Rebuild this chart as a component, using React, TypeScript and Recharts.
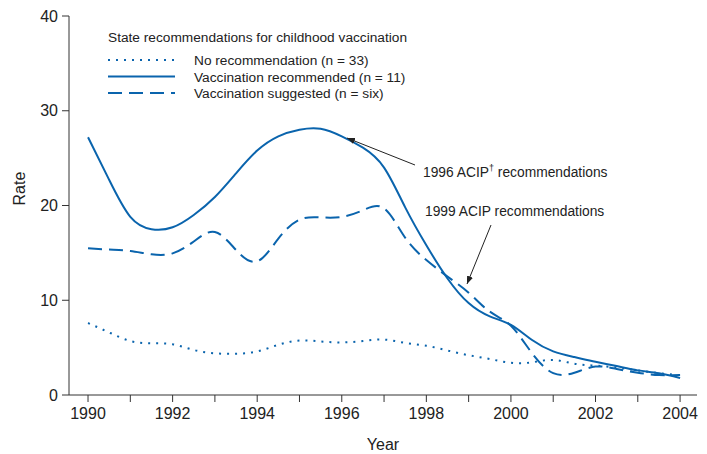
import React from 'react';
import { LineChart, Line, XAxis, YAxis } from 'recharts';

const years = [
  1990, 1990.5, 1991, 1991.5, 1992, 1992.5, 1993, 1993.5, 1994, 1994.5, 1995, 1995.5,
  1996, 1996.5, 1997, 1997.5, 1998, 1998.5, 1999, 1999.5, 2000, 2000.5, 2001, 2001.5,
  2002, 2002.5, 2003, 2003.5, 2004,
];
const noRecommendation = [
  7.6, 6.6, 5.7, 5.45, 5.35, 4.75, 4.4, 4.35, 4.6, 5.3, 5.75, 5.65,
  5.55, 5.7, 5.85, 5.5, 5.2, 4.7, 4.2, 3.8, 3.4, 3.45, 3.7, 3.3,
  3.1, 2.9, 2.6, 2.3, 2.1,
];
const recommended = [
  27.2, 22.7, 18.8, 17.5, 17.7, 19.0, 20.9, 23.4, 25.8, 27.3, 28.0, 28.1,
  27.3, 26.1, 24.0, 19.8, 15.8, 12.3, 9.7, 8.3, 7.4, 5.8, 4.6, 4.0,
  3.5, 3.05, 2.6, 2.3, 1.8,
];
const suggested = [
  15.5, 15.35, 15.2, 14.85, 14.95, 16.2, 17.2, 15.3, 14.1, 16.5, 18.5, 18.75,
  18.8, 19.5, 19.7, 16.6, 14.25, 12.5, 10.8, 8.8, 7.3, 4.4, 2.3, 2.35,
  3.0, 2.75, 2.35, 2.1, 2.1,
];
const xTicks = [1990, 1991, 1992, 1993, 1994, 1995, 1996, 1997, 1998, 1999, 2000, 2001, 2002, 2003, 2004];
const yTicks = [0, 10, 20, 30, 40];

const BLUE = '#0a64ad';
const AXIS = '#333';
const FONT = '"Liberation Sans", Arial, Helvetica, sans-serif';

const chartData = years.map((year, i) => ({
  year,
  none: noRecommendation[i],
  recommended: recommended[i],
  suggested: suggested[i],
}));

const legendItems = [
  { label: 'No recommendation (n = 33)', dash: '2 6' },
  { label: 'Vaccination recommended (n = 11)', dash: undefined },
  { label: 'Vaccination suggested (n = six)', dash: '14 7' },
];

export default function App() {
  return (
    <div style={{ position: 'absolute', left: 0, top: 0, width: 707, height: 454, background: '#fff', fontFamily: FONT }}>
      <LineChart width={707} height={454} data={chartData} margin={{ top: 16, right: 10, left: 0, bottom: 0 }}>
        <XAxis
          dataKey="year"
          type="number"
          domain={[1989.55, 2004.4]}
          ticks={xTicks}
          tickFormatter={(v: number) => (v % 2 === 0 ? String(v) : '')}
          tickSize={7}
          tickMargin={6}
          height={59}
          stroke={AXIS}
          tick={{ fill: '#222', fontSize: 16, fontFamily: FONT }}
          label={{ value: 'Year', position: 'insideBottom', offset: 4, fill: '#222', fontSize: 16, fontFamily: FONT }}
        />
        <XAxis xAxisId="top" orientation="top" dataKey="year" type="number" domain={[1989.55, 2004.4]} tick={false} tickLine={false} height={0} stroke={AXIS} />
        <YAxis
          domain={[0, 40]}
          ticks={yTicks}
          tickSize={7}
          tickMargin={4}
          width={69}
          stroke={AXIS}
          tick={{ fill: '#222', fontSize: 16, fontFamily: FONT }}
          label={{ value: 'Rate', angle: -90, position: 'insideLeft', offset: 19, fill: '#222', fontSize: 16, fontFamily: FONT }}
        />
        <YAxis yAxisId="right" orientation="right" domain={[0, 40]} tick={false} tickLine={false} width={0} stroke={AXIS} />
        <Line type="natural" dataKey="none" stroke={BLUE} strokeWidth={2} strokeDasharray="2 6" dot={false} isAnimationActive={false} />
        <Line type="natural" dataKey="recommended" stroke={BLUE} strokeWidth={2} dot={false} isAnimationActive={false} />
        <Line type="natural" dataKey="suggested" stroke={BLUE} strokeWidth={2} strokeDasharray="14 7" dot={false} isAnimationActive={false} />
      </LineChart>
      <svg width={707} height={454} style={{ position: 'absolute', left: 0, top: 0, pointerEvents: 'none' }}>
        <defs>
          <marker id="arrow" viewBox="0 0 10 10" refX="10" refY="5" markerWidth="8" markerHeight="8" orient="auto-start-reverse">
            <path d="M0,1 L10,5 L0,9 z" fill="#222" />
          </marker>
        </defs>
        <g fontFamily={FONT} fontSize={13.7} fill="#222">
          <text x={108} y={42}>State recommendations for childhood vaccination</text>
          {legendItems.map((item, i) => (
            <g key={item.label}>
              <line x1={108} x2={175} y1={60 + i * 16.5} y2={60 + i * 16.5} stroke={BLUE} strokeWidth={2} strokeDasharray={item.dash} />
              <text x={194} y={65 + i * 16.5}>{item.label}</text>
            </g>
          ))}
          <text x={423} y={177} fontSize={13.8}>
            1996 ACIP<tspan dy={-6} fontSize={9}>†</tspan><tspan dy={6}> recommendations</tspan>
          </text>
          <text x={425} y={216} fontSize={13.8}>1999 ACIP recommendations</text>
        </g>
        <line x1={415} y1={165} x2={347} y2={138} stroke="#222" strokeWidth={1} markerEnd="url(#arrow)" />
        <line x1={491} y1={225} x2={467} y2={284} stroke="#222" strokeWidth={1} markerEnd="url(#arrow)" />
      </svg>
    </div>
  );
}
